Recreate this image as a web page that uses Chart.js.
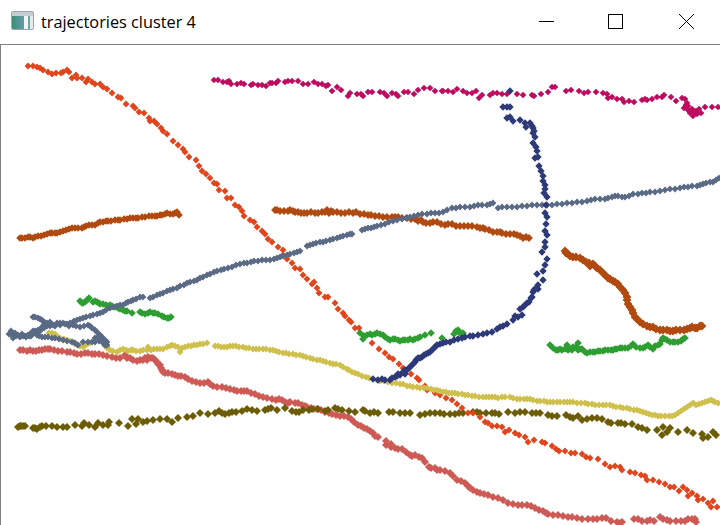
<!DOCTYPE html>
<html>
<head>
<meta charset="utf-8">
<title>trajectories cluster 4</title>
<script src="https://cdn.jsdelivr.net/npm/chart.js@4"></script>
<style>
html, body { margin: 0; padding: 0; background: #fff; overflow: hidden; }
#win { position: relative; width: 720px; height: 525px; }
#titlebar { position: absolute; left: 0; top: 0; width: 720px; height: 44px; border-bottom: 1px solid #808080; }
#titletext { position: absolute; left: 41px; top: 11px; font: 16.3px "Open Sans", "Noto Sans", sans-serif; color: #000; line-height: 22px; white-space: nowrap; }
#icon { position: absolute; left: 11px; top: 11px; width: 21px; height: 17px; border: 1px solid #9aa7b5; border-radius: 2px; background: linear-gradient(180deg, #c4ccd4 0, #c4ccd4 22%, transparent 23%), linear-gradient(90deg, #3f8f72 0, #5f9cb0 58%, #f2f5f6 59%, #f2f5f6 76%, #6fa89c 77%, #6fa89c 85%, #e4eaec 86%); }
#controls { position: absolute; left: 0; top: 0; }
#plotwrap { position: absolute; left: 0; top: 45px; width: 720px; height: 480px; }
#leftline { position: absolute; left: 0; top: 45px; width: 1px; height: 480px; background: #808080; }
canvas { position: absolute; left: 1px; top: 0; }
</style>
</head>
<body>
<div id="win">
  <div id="titlebar">
    <div id="icon"></div>
    <div id="titletext">trajectories cluster 4</div>
    <svg id="controls" width="720" height="44">
      <line x1="539" y1="21.5" x2="554" y2="21.5" stroke="#000"/>
      <rect x="608.5" y="14.5" width="14" height="14" fill="none" stroke="#000"/>
      <line x1="679" y1="14" x2="694" y2="29" stroke="#000"/>
      <line x1="694" y1="14" x2="679" y2="29" stroke="#000"/>
    </svg>
  </div>
  <div id="plotwrap"><canvas id="myChart" width="719" height="480"></canvas></div>
  <div id="leftline"></div>
</div>
<script>
// values, [x, y] of each trajectory
const orange = [[28,66],[33,66],[37,67],[40,68],[43,70],[48,72],[52,74],[56,73],[61,73],[63,72],[67,70],[69,72],[72,78],[76,75],[77,78],[82,78],[86,82],[88,79],[92,82],[95,84],[100,84],[103,87],[107,89],[112,93],[118,97],[121,98],[126,104],[133,106],[135,108],[139,112],[144,113],[149,118],[150,121],[154,121],[157,124],[161,128],[163,131],[167,134],[173,141],[178,145],[183,149],[185,152],[189,157],[196,160],[199,166],[202,171],[206,174],[210,178],[214,183],[217,184],[219,190],[225,191],[227,198],[231,198],[235,205],[239,207],[242,211],[244,216],[250,220],[254,222],[257,227],[262,231],[265,234],[268,239],[272,242],[278,247],[283,250],[283,255],[287,256],[287,259],[292,263],[295,268],[300,269],[303,275],[307,279],[312,284],[314,282],[317,288],[319,293],[325,297],[328,297],[335,303],[338,309],[343,313],[345,316],[349,320],[351,322],[355,328],[359,328],[364,336],[372,343],[379,349],[385,353],[389,357],[393,359],[399,364],[403,368],[411,374],[417,378],[419,380],[425,386],[427,390],[435,393],[440,395],[446,398],[452,400],[457,404],[462,408],[468,413],[473,413],[480,417],[485,422],[488,423],[492,426],[497,426],[502,427],[505,432],[509,430],[515,433],[519,435],[525,437],[528,442],[534,440],[542,442],[545,443],[552,446],[556,449],[559,451],[565,451],[571,453],[575,453],[582,454],[586,457],[590,458],[598,459],[605,464],[610,467],[615,466],[620,467],[622,470],[630,472],[635,473],[641,475],[645,476],[647,480],[653,480],[659,482],[665,484],[670,487],[674,487],[679,491],[683,487],[688,496],[687,490],[692,493],[697,496],[698,500],[703,499],[708,503],[713,501],[711,507],[717,507]];

const magenta = [[214,80],[218,80],[223,82],[227,82],[229,81],[231,84],[237,84],[241,83],[244,84],[251,85],[253,84],[258,85],[262,85],[266,86],[270,83],[272,83],[276,83],[278,81],[285,82],[288,81],[292,81],[298,81],[303,84],[308,84],[314,82],[318,84],[322,84],[326,86],[328,85],[332,91],[337,87],[341,90],[348,96],[350,93],[357,94],[361,94],[363,96],[368,92],[372,92],[380,92],[384,93],[387,96],[392,93],[396,94],[398,96],[404,92],[408,92],[414,94],[418,90],[424,88],[430,88],[435,91],[442,91],[443,91],[448,91],[453,92],[457,89],[463,91],[467,93],[472,93],[476,91],[479,98],[482,95],[490,95],[493,93],[497,93],[502,94],[507,94],[517,94],[523,95],[532,95],[534,96],[541,94],[548,92],[552,87],[555,87],[566,91],[571,90],[579,91],[584,93],[588,92],[596,92],[603,93],[607,94],[608,98],[612,97],[617,99],[622,99],[624,102],[629,101],[634,102],[642,100],[645,99],[647,100],[652,99],[657,97],[662,97],[664,95],[671,97],[676,101],[682,98],[685,99],[686,105],[684,108],[688,110],[692,109],[690,113],[693,116],[697,114],[701,113],[699,109],[705,107],[712,107],[718,107],[687,103],[688,106],[691,111],[694,112],[696,111]];

const navy = [[510,91],[503,107],[507,107],[510,107],[507,118],[510,117],[513,121],[520,120],[525,123],[526,127],[530,123],[532,126],[533,128],[534,131],[533,133],[535,137],[533,143],[536,147],[537,151],[535,158],[538,157],[539,166],[541,171],[543,176],[543,181],[545,185],[545,189],[544,193],[547,197],[546,205],[545,213],[547,217],[546,224],[545,231],[547,235],[545,242],[545,247],[542,252],[547,259],[545,265],[543,271],[537,274],[543,280],[538,285],[538,289],[535,289],[534,290],[533,292],[532,297],[531,298],[529,302],[527,303],[525,305],[523,307],[520,309],[522,315],[518,317],[515,316],[513,320],[507,324],[503,326],[500,327],[497,329],[492,332],[487,333],[483,334],[478,335],[473,336],[470,336],[465,337],[462,338],[458,339],[454,340],[450,342],[446,342],[443,343],[440,344],[437,345],[436,346],[434,348],[432,350],[430,352],[428,353],[426,354],[424,355],[422,357],[420,358],[418,358],[416,360],[415,362],[413,364],[411,366],[409,368],[407,370],[405,370],[405,374],[403,372],[400,375],[398,374],[397,376],[395,377],[392,378],[390,380],[385,380],[382,379],[378,380],[373,379]];

const slate = [[9,334],[11,331],[12,333],[13,336],[13,338],[15,333],[16,336],[18,335],[20,337],[22,334],[23,336],[25,336],[26,337],[28,335],[29,336],[30,334],[31,336],[32,333],[33,331],[34,333],[35,331],[38,330],[41,329],[44,328],[47,326],[50,326],[53,325],[57,323],[60,323],[63,323],[67,324],[70,323],[74,321],[77,320],[80,319],[83,318],[86,317],[90,316],[93,315],[97,314],[100,313],[103,312],[106,310],[110,308],[113,307],[117,306],[120,305],[123,305],[126,303],[128,302],[131,301],[133,300],[136,299],[140,297],[143,297],[150,298],[153,297],[157,295],[160,294],[163,293],[167,291],[170,290],[173,289],[177,288],[180,286],[184,285],[187,283],[190,282],[194,281],[197,280],[200,278],[203,277],[207,275],[210,274],[214,272],[217,271],[221,270],[224,269],[228,268],[232,267],[236,265],[240,264],[244,263],[247,263],[251,262],[254,261],[258,261],[262,260],[266,260],[270,260],[274,259],[277,258],[280,257],[283,256],[287,255],[290,254],[294,253],[297,252],[300,251],[307,246],[310,245],[313,244],[316,243],[320,242],[323,242],[326,241],[330,240],[333,239],[337,238],[340,237],[343,236],[347,235],[350,234],[352,234],[362,230],[365,229],[368,228],[371,228],[374,227],[377,226],[381,225],[385,224],[389,222],[393,221],[397,220],[402,219],[406,218],[410,217],[414,216],[418,215],[422,214],[427,214],[431,213],[435,213],[439,213],[443,212],[447,210],[452,208],[456,208],[460,207],[465,207],[470,207],[474,206],[478,205],[482,205],[487,205],[490,204],[493,203],[498,208],[502,207],[507,207],[512,207],[517,207],[522,206],[527,206],[532,205],[537,205],[542,205],[547,205],[552,205],[557,204],[562,204],[567,203],[572,203],[577,202],[582,202],[587,201],[591,200],[595,199],[600,199],[605,199],[608,198],[612,197],[615,196],[618,196],[622,197],[625,197],[629,196],[633,194],[638,194],[642,193],[646,193],[650,192],[655,192],[660,191],[665,190],[670,189],[675,189],[680,188],[684,187],[688,187],[692,186],[697,186],[700,185],[703,184],[706,183],[710,182],[713,182],[716,180],[719,178],
  [33,317],[35,317],[38,318],[40,319],[42,320],[44,322],[45,323],[47,323],[50,322],[44,325],[42,327],[40,331],[37,335],[39,336],[42,337],[45,337],[48,337],[52,338],[55,338],[59,339],[63,340],[67,341],[72,342],[75,343],[78,345],[83,342],[88,342],[92,342],[95,342],[99,341],[103,340],[105,345],[107,342],[107,345],[105,340],[102,337],[100,335],[100,338],[97,332],[95,330],[92,328],[90,326],[88,325],[84,326],[80,327],[76,326],[73,325],[69,326],[65,324],[60,325],[55,326],[95,338],[98,337],[103,343]];

const brown1 = [[20,238],[22,238],[25,238],[28,237],[30,237],[33,238],[35,237],[38,236],[41,236],[44,235],[47,234],[50,233],[52,233],[55,233],[57,233],[60,232],[63,231],[66,230],[69,229],[72,228],[75,228],[78,228],[82,228],[84,227],[86,226],[89,225],[92,225],[95,225],[98,223],[100,222],[103,222],[106,221],[108,221],[111,221],[115,220],[118,220],[120,220],[124,219],[127,219],[130,218],[133,218],[136,218],[138,218],[142,217],[145,217],[149,216],[152,216],[155,216],[157,216],[160,215],[162,215],[165,214],[167,213],[170,214],[173,214],[175,213],[177,212],[179,215]];

const brown2 = [[275,210],[277,210],[280,211],[284,211],[288,211],[290,210],[293,211],[295,212],[298,212],[301,213],[304,213],[307,213],[311,212],[315,213],[318,213],[322,212],[325,212],[327,210],[329,213],[331,211],[333,212],[337,212],[341,213],[345,213],[349,212],[353,213],[356,212],[360,214],[364,214],[368,215],[371,215],[375,216],[379,216],[383,217],[387,217],[392,217],[395,217],[398,217],[402,218],[407,218],[411,219],[415,219],[418,221],[421,220],[423,222],[426,223],[430,223],[433,222],[437,222],[441,224],[445,225],[448,224],[452,224],[456,226],[460,226],[464,226],[468,226],[472,226],[477,227],[480,228],[483,228],[485,229],[489,230],[493,232],[497,232],[500,232],[502,233],[506,234],[510,234],[514,234],[517,235],[520,236],[523,238],[526,237],[529,238]];

const brown3 = [[565,251],[566,253],[568,254],[570,256],[573,257],[576,257],[580,258],[583,260],[586,262],[589,263],[590,266],[593,264],[595,266],[597,268],[600,270],[603,273],[605,275],[608,278],[610,279],[613,281],[615,282],[618,284],[620,287],[623,290],[625,293],[627,297],[627,300],[628,304],[630,307],[632,310],[633,313],[635,317],[637,319],[640,322],[643,324],[647,326],[650,327],[653,327],[656,329],[660,330],[663,330],[667,330],[670,331],[673,331],[676,330],[680,330],[684,330],[687,329],[690,328],[692,327],[695,328],[697,328],[700,326],[702,326]];

const green = [[80,301],[82,303],[83,303],[85,302],[87,300],[89,298],[93,302],[95,301],[97,302],[99,303],[100,304],[103,304],[106,305],[108,306],[110,305],[112,306],[115,307],[118,308],[120,309],[123,310],[125,311],[127,311],[132,313],[140,312],[142,313],[145,314],[148,313],[150,312],[153,313],[155,313],[158,314],[162,316],[164,317],[167,318],[169,318],[171,317],
  [360,333],[363,339],[364,336],[367,335],[370,334],[372,335],[375,334],[377,333],[380,334],[383,335],[385,337],[388,339],[390,340],[393,339],[395,339],[398,340],[400,341],[403,340],[405,340],[408,340],[410,339],[413,340],[415,339],[418,338],[420,337],[425,335],[431,333],[442,338],[454,334],[456,331],[458,330],[459,332],[461,334],[463,333],
  [550,345],[553,348],[556,350],[558,350],[560,349],[562,350],[565,349],[567,345],[568,350],[570,349],[572,350],[573,347],[576,347],[578,343],[578,350],[580,349],[582,349],[585,352],[587,353],[590,352],[593,352],[595,352],[598,351],[600,351],[603,351],[605,350],[608,350],[611,350],[613,350],[615,349],[617,349],[620,348],[622,348],[625,348],[628,348],[631,346],[633,344],[636,347],[640,348],[643,348],[645,347],[648,345],[650,347],[653,349],[655,346],[658,345],[660,344],[662,340],[663,338],[665,339],[667,340],[670,342],[673,342],[675,342],[678,342],[681,341],[683,339],[685,338]];

const yellow = [[49,333],[52,333],[55,334],[57,336],[60,338],[64,339],[67,340],[70,341],[73,342],[75,344],[77,345],[80,346],[83,347],[86,345],[90,343],[105,346],[107,348],[109,349],[110,350],[113,351],[117,352],[120,350],[123,349],[126,350],[128,351],[131,350],[133,350],[136,351],[140,351],[143,350],[147,350],[148,347],[151,350],[154,349],[157,349],[160,349],[163,349],[167,347],[170,346],[172,345],[175,346],[178,347],[180,352],[182,348],[185,347],[188,346],[191,346],[194,345],[197,345],[200,344],[203,344],[207,343],[215,346],[218,346],[221,347],[224,347],[227,347],[230,346],[233,346],[236,346],[239,347],[243,347],[246,348],[249,348],[253,349],[256,349],[259,349],[263,349],[266,349],[270,350],[273,350],[276,351],[279,352],[283,353],[286,353],[289,354],[293,354],[296,355],[300,355],[303,356],[306,357],[310,358],[313,359],[317,360],[320,360],[323,361],[326,362],[330,363],[333,364],[336,364],[340,365],[343,367],[347,369],[349,370],[352,372],[355,373],[358,374],[362,376],[366,377],[369,378],[377,380],[380,381],[384,381],[388,382],[392,383],[396,383],[400,384],[403,384],[407,386],[410,386],[413,387],[417,387],[420,388],[424,388],[427,388],[431,389],[434,390],[437,390],[440,391],[443,392],[446,392],[449,393],[452,393],[455,393],[458,394],[462,394],[465,395],[468,395],[472,396],[475,396],[479,397],[483,397],[486,397],[489,397],[492,397],[495,397],[498,398],[502,397],[505,397],[510,397],[513,398],[517,399],[520,399],[524,399],[527,399],[530,399],[533,400],[537,401],[540,401],[544,401],[547,402],[550,402],[553,402],[557,402],[560,402],[564,402],[567,402],[570,402],[573,402],[577,403],[581,403],[585,403],[588,404],[592,404],[595,405],[599,405],[603,405],[606,405],[610,405],[613,406],[616,407],[620,407],[623,408],[627,408],[630,409],[634,410],[637,410],[640,411],[643,412],[646,413],[649,414],[652,415],[655,415],[658,416],[661,416],[665,416],[669,416],[672,416],[675,415],[678,413],[681,411],[684,409],[687,407],[690,405],[693,403],[696,405],[699,404],[702,403],[705,402],[708,401],[711,400],[713,401],[715,402],[718,403]];

const red = [[20,350],[23,350],[27,351],[30,350],[33,351],[36,351],[39,350],[42,350],[45,349],[48,349],[50,349],[54,350],[58,351],[62,351],[67,352],[70,352],[74,353],[77,354],[81,354],[85,353],[88,353],[92,354],[95,354],[99,354],[103,355],[107,356],[112,357],[116,358],[120,358],[125,355],[127,358],[130,358],[133,360],[137,361],[140,360],[143,360],[145,358],[147,360],[148,357],[151,358],[153,358],[155,360],[157,362],[158,364],[160,365],[161,368],[162,370],[163,372],[165,373],[168,373],[172,374],[175,375],[178,376],[181,376],[185,377],[188,379],[192,381],[196,382],[200,383],[204,383],[208,382],[210,384],[213,386],[217,387],[222,387],[226,388],[230,389],[234,390],[237,391],[241,391],[244,391],[247,391],[251,393],[255,394],[259,396],[263,397],[267,398],[272,399],[276,400],[279,399],[282,400],[285,402],[288,403],[290,402],[295,403],[298,403],[302,405],[305,406],[307,407],[311,408],[314,409],[317,409],[321,410],[325,412],[329,413],[332,414],[336,415],[340,416],[344,416],[348,417],[351,419],[354,422],[358,425],[361,426],[364,428],[367,429],[370,431],[373,433],[375,436],[378,437],[386,441],[386,445],[391,444],[391,447],[395,448],[398,449],[402,449],[406,452],[410,455],[412,456],[415,455],[419,457],[422,458],[425,462],[429,467],[431,468],[435,468],[437,470],[440,470],[445,471],[450,473],[453,476],[457,480],[461,481],[465,483],[468,486],[470,488],[473,490],[477,492],[480,493],[484,494],[488,495],[493,497],[498,498],[503,500],[508,503],[513,504],[518,505],[522,505],[527,505],[531,506],[535,508],[539,510],[543,511],[546,513],[548,514],[553,515],[558,515],[563,516],[568,517],[572,517],[577,518],[582,519],[588,519],[593,519],[597,519],[602,518],[606,518],[611,521],[617,522],[620,523],[622,522],[634,519],[638,519],[642,521],[647,521],[650,520],[654,521],[660,517],[663,519],[667,520],[670,521],[676,521],[681,521],[685,521],[688,519],[692,519],[695,519],[696,522]];

const olive = [[18,427],[20,426],[21,426],[23,426],[25,426],[33,428],[35,428],[37,429],[40,427],[42,426],[46,426],[52,426],[57,427],[63,427],[67,427],[75,425],[82,426],[84,423],[89,425],[95,427],[98,423],[103,425],[108,425],[109,422],[119,423],[128,426],[132,419],[136,424],[138,419],[143,422],[147,421],[153,420],[160,419],[167,419],[172,422],[178,418],[187,417],[193,416],[200,413],[208,414],[215,413],[219,411],[222,413],[225,414],[229,413],[232,412],[236,412],[242,411],[247,409],[252,410],[257,411],[265,410],[268,409],[271,408],[277,410],[285,408],[292,411],[296,412],[299,412],[303,410],[309,410],[312,409],[318,409],[325,411],[328,410],[335,408],[338,409],[342,410],[349,411],[355,412],[363,410],[365,411],[370,413],[374,412],[378,413],[389,412],[393,412],[400,413],[405,413],[410,413],[420,415],[425,414],[430,413],[435,413],[440,413],[444,414],[450,414],[455,414],[459,413],[463,413],[473,412],[477,412],[480,413],[486,413],[492,413],[495,413],[499,414],[508,412],[515,413],[520,412],[525,412],[532,413],[536,413],[540,413],[548,415],[552,416],[557,416],[566,415],[570,417],[573,418],[578,416],[582,420],[587,419],[592,418],[597,418],[602,419],[608,422],[611,423],[618,423],[621,423],[625,424],[632,424],[638,427],[642,428],[647,430],[657,430],[662,435],[663,427],[667,432],[670,428],[678,432],[687,430],[693,433],[702,434],[703,438],[708,437],[713,432],[716,435]];

function serie(punkte, farbe, groesse){
    return {
        data: punkte.map(function(p){ return {x: p[0], y: p[1]}; }),
        pointStyle: "rectRot",
        pointRadius: groesse,
        backgroundColor: farbe,
        borderColor: farbe,
        borderWidth: 0,
        showLine: false
    };
}

new Chart("myChart", {
    type: "scatter",
    data: {
        datasets: [
            // first one is drawn on top
            serie(navy, "#2E3A78", 3.7),
            serie(slate, "#5A6A85", 3.4),
            serie(yellow, "#CFC04E", 3.4),
            serie(green, "#2E9E33", 3.8),
            serie(orange, "#E2451B", 3.4),
            serie(olive, "#6B5C05", 4),
            serie(red, "#CD5A55", 4),
            serie(brown3, "#B04A10", 4.4),
            serie(brown2, "#B04A10", 3.9),
            serie(brown1, "#B04A10", 3.8),
            serie(magenta, "#BE0A5F", 3.3)
        ]
    },
    options: {
        responsive: false,
        animation: false,
        devicePixelRatio: 1,
        layout: {padding: 0, autoPadding: false},
        plugins: {legend: {display: false}, tooltip: {enabled: false}},
        scales: {
            x: {type: "linear", display: false, min: 1, max: 720},
            y: {type: "linear", display: false, min: 45, max: 525, reverse: true}
        }
    }
});
</script>
</body>
</html>
